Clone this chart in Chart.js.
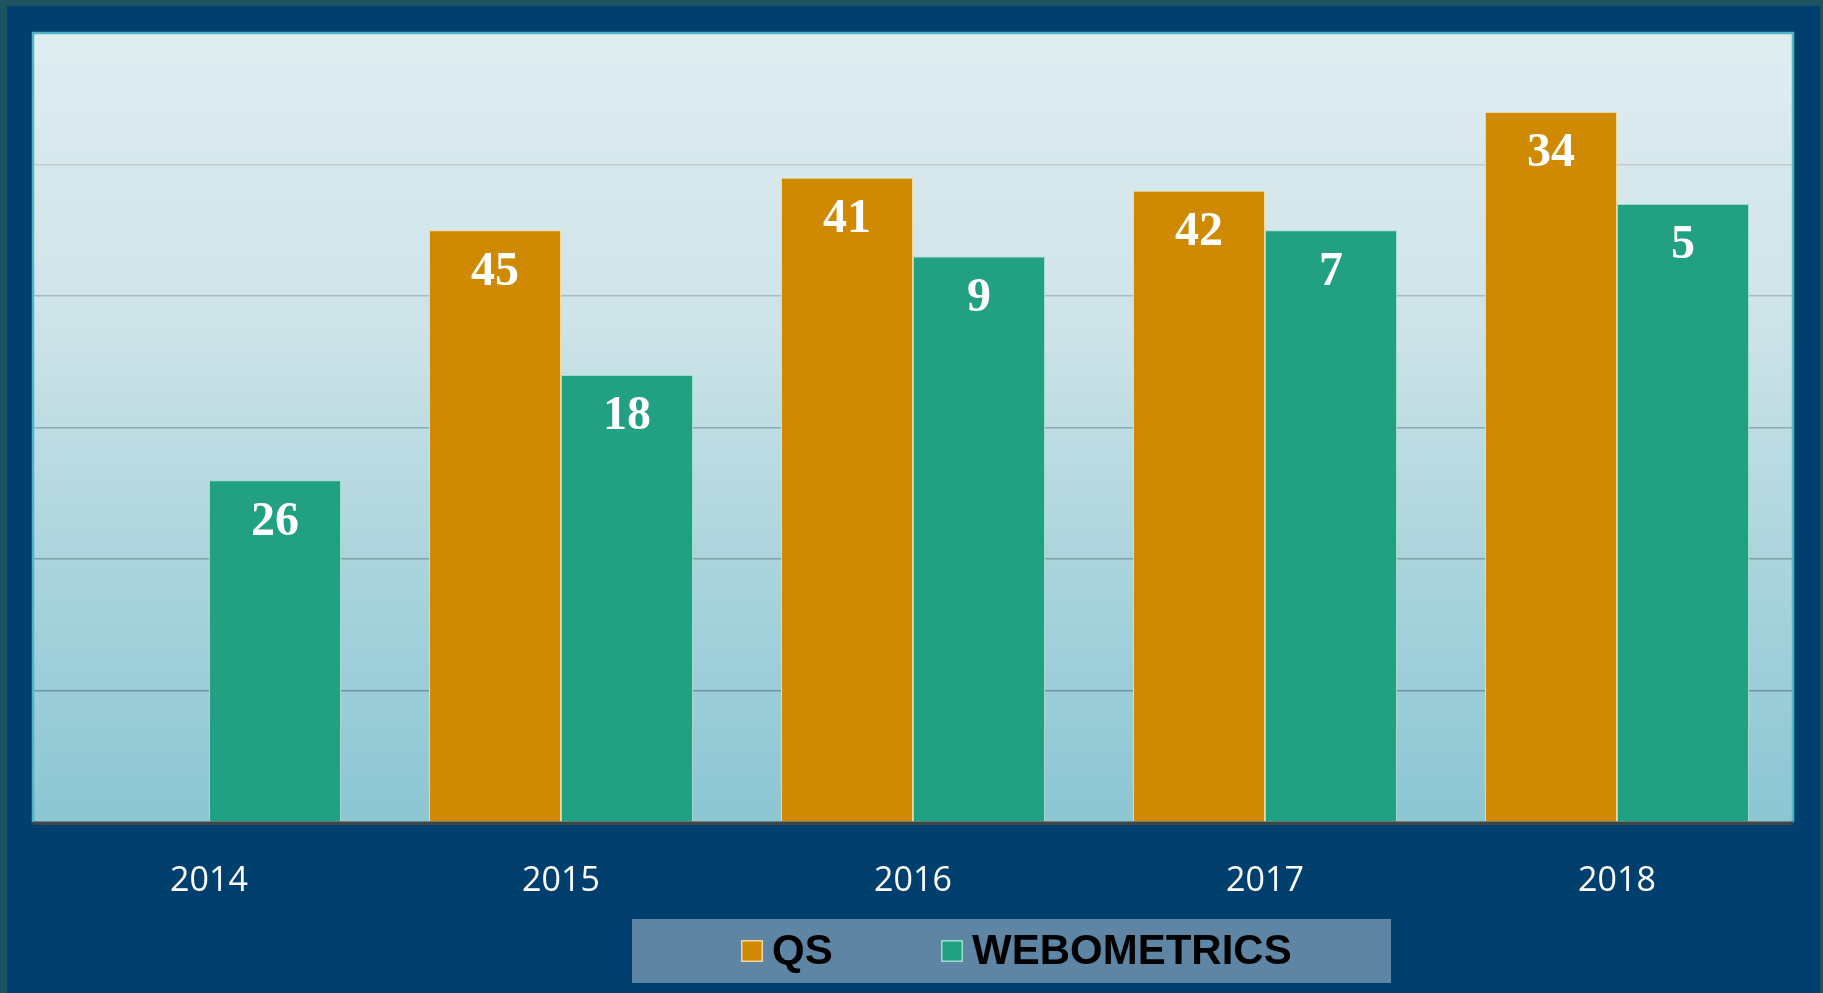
<!DOCTYPE html>
<html>
<head>
<meta charset="utf-8">
<script src="https://cdn.jsdelivr.net/npm/chart.js@4.4.1/dist/chart.umd.min.js"></script>
<style>
  html, body { margin: 0; padding: 0; background: #003f6e; }
  #wrap { width: 1823px; height: 993px; position: relative; }
</style>
</head>
<body>
<div id="wrap"><canvas id="c"></canvas></div>
<script>
// ---- data ----
const years = ['2014', '2015', '2016', '2017', '2018'];
// bar heights as drawn (hidden scale 0-60)
const qsHeights = [null, 45, 49, 48, 54];
const webHeights = [26, 34, 43, 45, 47];
// numbers written on the bars (ranks)
const qsRanks = [null, 45, 41, 42, 34];
const webRanks = [26, 18, 9, 7, 5];
const seriesNames = ['QS', 'WEBOMETRICS'];
const seriesColors = ['#cf8a02', '#22a082'];
const seriesBorders = ['#f0d7a0', '#9fdccb'];

const gridColors = { 10: '#6f95a1', 20: '#7e9ea8', 30: '#8fa9b1', 40: '#a9b9bd', 50: '#c3cacc' };

const framePlugin = {
  id: 'frame',
  beforeDraw(chart) {
    const ctx = chart.ctx, W = chart.width, H = chart.height, a = chart.chartArea;
    ctx.save();
    ctx.fillStyle = '#1e5461';
    ctx.fillRect(0, 0, W, H);
    ctx.fillStyle = '#003f6e';
    ctx.fillRect(7, 6, W - 10, H - 6);
    const g = ctx.createLinearGradient(0, a.top, 0, a.bottom);
    g.addColorStop(0, '#dfedf1');
    g.addColorStop(0.35, '#cfe4e9');
    g.addColorStop(0.7, '#a8d3dc');
    g.addColorStop(1, '#8bc6d2');
    ctx.fillStyle = g;
    ctx.fillRect(a.left, a.top, a.right - a.left, a.bottom - a.top);
    ctx.restore();
  },
  afterDraw(chart) {
    const ctx = chart.ctx, a = chart.chartArea;
    ctx.save();
    // plot border (cyan) left, top, right
    ctx.strokeStyle = '#4fb4c5';
    ctx.lineWidth = 2.5;
    ctx.beginPath();
    ctx.moveTo(a.left, a.bottom);
    ctx.lineTo(a.left, a.top);
    ctx.lineTo(a.right, a.top);
    ctx.lineTo(a.right, a.bottom);
    ctx.stroke();
    // base axis line
    ctx.strokeStyle = '#3f4447';
    ctx.lineWidth = 3.5;
    ctx.beginPath();
    ctx.moveTo(a.left, a.bottom + 1);
    ctx.lineTo(a.right, a.bottom + 1);
    ctx.stroke();

    // custom legend
    const bx = 632, by = 919, bw = 759, bh = 64;
    ctx.fillStyle = '#5e85a4';
    ctx.fillRect(bx, by, bw, bh);
    const items = chart.data.datasets.map((d) => ({ text: d.label, color: d.backgroundColor, border: d.borderColor }));
    const boxX = [741, 941];
    ctx.font = 'bold 42px "Liberation Sans", Arial, sans-serif';
    ctx.textBaseline = 'alphabetic';
    ctx.textAlign = 'left';
    items.forEach((it, i) => {
      ctx.fillStyle = it.color;
      ctx.fillRect(boxX[i], 940, 22, 22);
      ctx.strokeStyle = it.border;
      ctx.lineWidth = 1.5;
      ctx.strokeRect(boxX[i] + 0.75, 940.75, 20.5, 20.5);
      ctx.fillStyle = '#000000';
      ctx.fillText(it.text, boxX[i] + 31, 964);
    });
    ctx.restore();
  },
  afterDatasetsDraw(chart) {
    const ctx = chart.ctx;
    const ranks = [qsRanks, webRanks];
    ctx.save();
    ctx.font = 'bold 48px "Liberation Serif", "Times New Roman", serif';
    ctx.fillStyle = '#ffffff';
    ctx.textAlign = 'center';
    ctx.textBaseline = 'middle';
    chart.data.datasets.forEach((ds, di) => {
      const meta = chart.getDatasetMeta(di);
      meta.data.forEach((el, i) => {
        const r = ranks[di][i];
        if (r === null || ds.data[i] === null) return;
        ctx.fillText(String(r), el.x, el.y + 42);
      });
    });
    ctx.restore();
  }
};

new Chart(document.getElementById('c'), {
  type: 'bar',
  data: {
    labels: years,
    datasets: [
      { label: seriesNames[0], data: qsHeights, backgroundColor: seriesColors[0], borderColor: seriesBorders[0], borderWidth: 1 },
      { label: seriesNames[1], data: webHeights, backgroundColor: seriesColors[1], borderColor: seriesBorders[1], borderWidth: 1 }
    ]
  },
  options: {
    responsive: true,
    maintainAspectRatio: false,
    animation: false,
    layout: { padding: { left: 33, right: 30, top: 33, bottom: 60 } },
    datasets: { bar: { categoryPercentage: 0.75, barPercentage: 1.0 } },
    plugins: { legend: { display: false }, tooltip: { enabled: false } },
    scales: {
      x: {
        grid: { display: false },
        border: { display: false },
        ticks: { color: '#ffffff', font: { family: '"Open Sans", sans-serif', size: 34 }, padding: 31, maxRotation: 0 }
      },
      y: {
        display: true,
        min: 0, max: 60,
        ticks: { display: false, stepSize: 10 },
        border: { display: false },
        grid: {
          drawTicks: false,
          lineWidth: 1.5,
          color: (c) => gridColors[c.tick && c.tick.value] || 'rgba(0,0,0,0)'
        },
        afterFit(scale) { scale.width = 0; }
      }
    }
  },
  plugins: [framePlugin]
});
</script>
</body>
</html>
